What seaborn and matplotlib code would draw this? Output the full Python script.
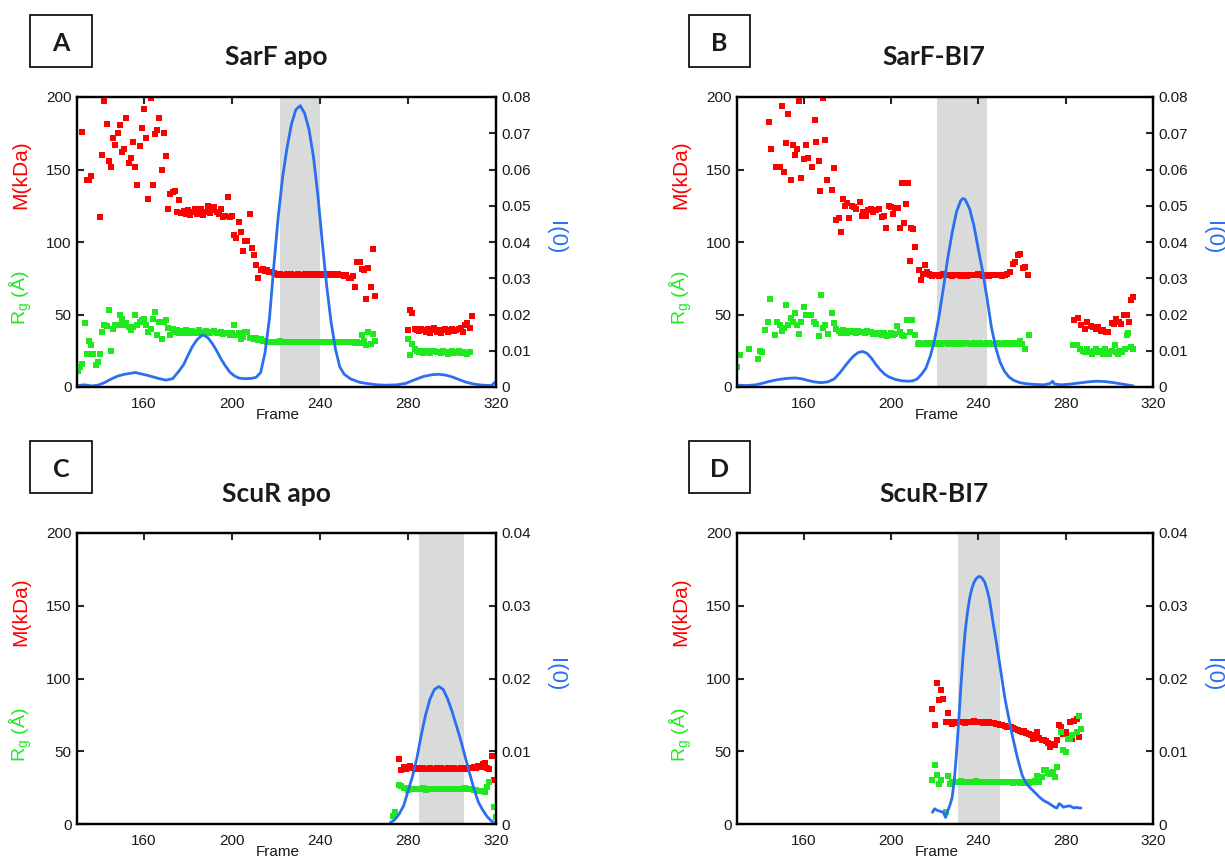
import numpy as np
import pandas as pd
import matplotlib
matplotlib.use("Agg")
import matplotlib.pyplot as plt
import seaborn as sns
from matplotlib.patches import Rectangle
from matplotlib.ticker import FuncFormatter

sns.set_style("white")
plt.rcParams["font.family"] = ["Liberation Sans", "DejaVu Sans"]
plt.rcParams["mathtext.default"] = "regular"

nan = np.nan

# ---------------- data ----------------
PANEL_LETTERS = ["A", "B", "C", "D"]
PANEL_TITLES = ["SarF apo", "SarF-BI7", "ScuR apo", "ScuR-BI7"]
SHADE_SPANS = [(222, 240), (221, 244), (285, 305.5), (230.5, 250)]
I0_MAX = [0.08, 0.08, 0.04, 0.04]
X_TICKS = [160, 200, 240, 280, 320]
Y_TICKS = [0, 50, 100, 150, 200]

# ---- Panel A: SarF apo ----
A_M_RUN1_START = 132
A_M_RUN1 = [176, nan, 142.5, 143, 145.5, nan, nan, nan, 117, 160, 197, 181.6, 155.6, 151.7,
            172, 167, 175, 181, 162, 164, 185.5, 154.7, 158, 169, 151.7, 139, 166, 178.6, 192,
            171.7, 130, 199, 139, 174.7, 177, 185.5, 149.4, 175.4, 159, 123, 133, 134.5, 135,
            120.7, 129,
            120, 121.5, 119, 122, 118.5, 121, 123, 119, 120.5, 122.5, 118.5, 121, 124.5, 120,
            122, 124, 121, 119, 123, 117.5, 118, 131, 117, 118,
            104.6, 103, 114, 107, 94, 101, 100.7, 119.5, 96, 91, 84, 75, 80.5, 81.6, 80, 80.5,
            79.3, 79, 78.5,
            77.8, 77.2, 77.6, 77.0, 77.5, 77.9, 77.3, 77.6, 77.1, 77.5, 77.8, 77.2, 77.4, 77.7,
            77.0, 77.5, 77.9, 77.3, 77.6, 77.2, 77.5, 77.8, 77.1, 77.4, 77.7, 77.3, 77.6, 77.0,
            77.8, 77.4, 77.2,
            76.5, 77.5, 75.5, 75, 76.5, 69, 86, 86, 81.6, 80.5, 61, 82, 69, 95.4, 63]
A_M_RUN2_START = 280
A_M_RUN2 = [39, 53, 51, 40, 39, 38.5, 40, 39, 38, 40, 37, 39, 40.5, 38, 39.5, 37.5, 39, 40,
            38, 39, 40, 38.5, 39, 40, 41, 38, 42.5, 44, 41, 48.7]

A_RG_RUN1_START = 130
A_RG_RUN1 = [11, 13.8, 16, 44, 23, 31.5, 29, 23, 15, 17, 23, 38, 42.5, 42, 53, 24.6, 40, 42.5,
             42.5, 49.4, 47, 42.5, 44, 41.4, 39, 41.4, 49.4, 42.5, 45, 46, 47, 42.5, 38, 40, 47,
             52, 35.6, 45, 33, 45, 46, 41, 36, 40, 38, 39.5, 37, 38.5, 37.5, 39, 38, 37, 38.5,
             37.5, 38, 39, 37, 38, 38.5, 37.5, 37, 38, 38.5, 37, 37.5, 38, 36.5, 37.5, 37, 36,
             37.5, 43, 36, 37, 33.3, 34.5, 38, 38, 34, 33.5, 33, 34, 32.5, 33, 31.5, 31.5,
             31.2, 30.8, 31.0, 31.3, 30.9, 31.1, 31.4, 30.8, 31.0, 31.2, 30.9, 31.1, 31.3, 30.8,
             31.0, 31.2, 30.9, 31.1, 31.0, 31.3, 30.8, 31.1, 31.2, 30.9, 31.0, 31.3, 31.1, 30.8,
             31.2, 31.0, 30.9, 31.1, 31.3, 31.0, 30.8, 31.2, 31.1, 30.9, 31.0, 31.2, 30.5, 30.8,
             30.3, 35.6, 32, 29, 38, 30, 36.8, 32]
A_RG_RUN2_START = 280
A_RG_RUN2 = [33, 22, 30, 26.4, 25, 24, 24.5, 23.5, 24.8, 24, 23.2, 24.5, 25, 23.8, 24.2, 23.5,
             24.6, 24, 23, 24.3, 24.8, 23.6, 24, 24.5, 23.2, 24, 23.5, 22.5, 23.8]

A_I0_FRAMES = [130, 133, 136, 139, 142, 145, 148, 151, 154, 156, 158, 161, 164, 167, 170, 173,
               176, 178, 180, 182, 184, 186, 187, 189, 191, 193, 195, 197, 199, 201, 203, 205,
               207, 209, 211, 213, 215, 217, 219, 221, 223, 225, 227, 229, 231, 233, 235, 237,
               239, 241, 243, 245, 247, 249, 251, 254, 258, 262, 266, 270, 275, 279, 283, 287,
               291, 294, 297, 300, 303, 306, 310, 314, 318, 320]
A_I0 = [0.0004, 0.0006, 0.0003, 0.0005, 0.0012, 0.0022, 0.0030, 0.0035, 0.0038, 0.0040, 0.0037,
        0.0033, 0.0028, 0.0023, 0.0019, 0.0023, 0.0045, 0.0062, 0.0088, 0.0112, 0.0130, 0.0141,
        0.0143, 0.0136, 0.0120, 0.0100, 0.0077, 0.0058, 0.0041, 0.0031, 0.0025, 0.0023, 0.0023,
        0.0024, 0.0027, 0.0040, 0.0095, 0.0189, 0.0335, 0.0470, 0.0580, 0.0660, 0.0725, 0.0765,
        0.0776, 0.0755, 0.0710, 0.0635, 0.0530, 0.0400, 0.0280, 0.0180, 0.0105, 0.0055, 0.0035,
        0.0022, 0.0013, 0.0009, 0.0006, 0.0005, 0.0006, 0.0010, 0.0020, 0.0029, 0.0034, 0.0035,
        0.0033, 0.0028, 0.0021, 0.0014, 0.0008, 0.0005, 0.0004, 0.0016]

# ---- Panel B: SarF-BI7 ----
B_M_PTS1 = [(144, 183), (145, 164), (147.5, 152), (149, 151.7), (150, 194), (151, 148),
            (152, 168), (152.7, 188.5), (154, 143), (155, 166.7), (156, 160), (157, 164),
            (157.7, 197), (158.8, 144), (160, 157.5), (161, 167), (162, 158), (164, 151.7),
            (165, 184), (165.8, 169), (166.9, 156), (167.6, 135), (169, 199), (170, 170.6),
            (170.7, 143), (173, 136), (173.7, 151), (175, 115), (176, 116.5), (177, 107),
            (178, 130), (179, 125), (180, 127), (181, 116.5), (182, 125), (183, 124),
            (184, 122.5), (185.6, 127.6), (186.7, 118), (187.4, 120.7), (188.6, 118),
            (189.7, 121.8), (190.8, 123), (192, 120.7), (193, 121.8), (194.6, 123), (196, 117),
            (197, 118), (197.8, 110), (199, 125), (200, 124), (201, 119.5), (202, 123.4),
            (203, 123.4), (204, 110), (205, 141), (206, 113), (207, 126), (208, 141),
            (208.8, 87), (209, 109.7), (210, 109), (211, 96.6), (213, 80.5), (213.6, 73.6),
            (214.5, 78), (215.6, 84), (216.7, 79), (217.5, 78)]
B_M_RUN_START = 218
B_M_RUN = [77.3, 76.8, 77.5, 77.0, 76.6, 77.2, 77.6, 76.9, 77.1, 77.4, 76.7, 77.0, 77.5, 77.2,
           76.8, 77.3, 77.0, 76.6, 77.4, 77.1, 76.9, 77.3, 77.6, 77.0, 76.8, 77.2, 77.4, 76.7,
           77.1, 77.3, 76.9, 77.5, 77.0, 76.6, 77.2]
B_M_PTS2 = [(253, 78), (254.5, 79), (255.7, 85), (256.8, 86), (258, 91), (259.3, 92),
            (260.3, 82), (261.3, 82.8), (262.9, 77), (284, 46), (285.7, 47.6), (287, 42.5),
            (288.8, 40), (290, 44.8), (291.4, 42), (292.6, 41.4), (293.8, 40), (294.9, 41.4),
            (296, 38.4), (297, 39), (298.4, 38), (299.4, 38), (301, 44.4), (302, 43.7),
            (303, 47), (304.5, 44.8), (305.5, 43.7), (306.6, 49.4), (308, 49.4), (309, 44.8),
            (310, 60), (311, 62)]

B_RG_PTS1 = [(129.5, 13.8), (130.8, 21.8), (135, 26.4), (139, 19), (140, 25), (141, 24),
             (142.5, 39), (143.7, 45), (144.8, 61), (146.7, 35.6), (147.8, 44.8), (149, 43),
             (150, 38.4), (151, 40.7), (152, 56.3), (152.7, 43), (154, 47.6), (155, 44.8),
             (156, 51), (157, 42.5), (157.7, 36.8), (158.8, 44.8), (160, 55), (161, 50),
             (162, 50), (163.5, 50), (164.6, 44.8), (165.8, 43.7), (166.9, 35), (168, 63.7),
             (169, 40.7), (170, 42.5), (171.4, 36.8), (173, 51), (174, 44.4), (175, 40)]
B_RG_RUN1_START = 176
B_RG_RUN1 = [38.5, 37.2, 39.0, 38.0, 37.5, 38.8, 37.8, 38.3, 37.0, 38.6, 37.9, 38.2, 37.4, 38.7,
             37.6, 38.1, 36.8, 37.5, 36.5, 37.2, 35.8, 36.9, 35.5, 36.2, 37.0, 35.9, 36.5]
B_RG_PTS2 = [(202.7, 42), (204, 38), (205, 36), (206, 35), (207.5, 46), (208.5, 38),
             (209.5, 46), (211, 36), (212.6, 30)]
B_RG_RUN2_START = 213
B_RG_RUN2 = [30.2, 29.8, 30.0, 30.3, 29.9, 30.1, 30.4, 29.7, 30.0, 30.2, 29.9, 30.1, 30.3, 29.8,
             30.0, 30.2, 29.9, 30.1, 30.0, 30.3, 29.8, 30.1, 30.2, 29.9, 30.0, 30.3, 30.1, 29.8,
             30.2, 30.0, 29.9, 30.1, 30.3, 30.0, 29.8, 30.2, 30.1, 29.9, 30.0, 30.2, 29.7, 30.1,
             30.4, 29.6, 30.2, 29.8]
B_RG_PTS3 = [(259, 31.5), (260, 30), (261.3, 26.4), (263, 36), (283.4, 29), (285, 29),
             (286.5, 26.4), (288, 25), (289, 24), (290, 26), (291, 24), (292, 23), (293, 25),
             (294, 26), (295, 24), (296, 25), (297, 23), (298, 26), (299, 24), (300, 23),
             (301, 25), (302.5, 29), (303, 24), (304, 23), (305, 25), (306, 24), (307, 26),
             (308, 36), (308.6, 37), (310, 27.6), (311, 26.4)]

B_I0_FRAMES = [130, 134, 138, 141, 144, 147, 150, 153, 156, 159, 162, 165, 168, 171, 174, 177,
               179, 181, 183, 185, 187, 189, 191, 193, 195, 197, 199, 202, 205, 208, 210, 212,
               214, 216, 218, 220, 222, 224, 226, 228, 230, 232, 233, 234, 236, 238, 240, 242,
               244, 246, 248, 250, 252, 254, 256, 259, 262, 266, 270, 273, 274, 275, 278, 282,
               286, 290, 294, 298, 302, 306, 310, 311]
B_I0 = [0.0005, 0.0004, 0.0006, 0.0010, 0.0015, 0.0019, 0.0022, 0.0024, 0.0025, 0.0023, 0.0018,
        0.0014, 0.0012, 0.0014, 0.0022, 0.0042, 0.0058, 0.0073, 0.0086, 0.0095, 0.0098, 0.0093,
        0.0080, 0.0063, 0.0048, 0.0036, 0.0028, 0.0021, 0.0017, 0.0016, 0.0017, 0.0022, 0.0035,
        0.0052, 0.0085, 0.0130, 0.0195, 0.0272, 0.0355, 0.0425, 0.0483, 0.0515, 0.0520, 0.0517,
        0.0492, 0.0445, 0.0380, 0.0318, 0.0245, 0.0165, 0.0108, 0.0068, 0.0043, 0.0028, 0.0019,
        0.0012, 0.0009, 0.0007, 0.0006, 0.0010, 0.0016, 0.0008, 0.0006, 0.0008, 0.0011, 0.0014,
        0.0016, 0.0015, 0.0012, 0.0008, 0.0004, 0.0003]

# ---- Panel C: ScuR apo ----
C_M_RUN_START = 276
C_M_RUN = [45, 37, 39, 38, 39.5, 40,
           38.3, 37.8, 38.1, 38.4, 37.9, 38.2, 38.0, 37.7, 38.3, 38.1, 37.9, 38.2, 38.0, 38.4,
           37.8, 38.1, 38.3, 37.9, 38.0, 38.2, 37.8, 38.1, 38.3, 38.0, 37.9, 38.4, 38.6, 38.2,
           39, 38.5, 40, 39, 41, 42, 38.6, 38, 47, 30]
C_RG_RUN_START = 273
C_RG_RUN = [5.7, 8, nan, 27, 26.4, 25, 24.5, 23.4,
            24.2, 23.8, 24.0, 24.3, 23.9, 24.1, 24.4, 23.7, 24.0, 24.2, 23.9, 24.1, 24.3, 23.8,
            24.0, 24.2, 23.9, 24.1, 24.0, 24.3, 23.8, 24.1, 24.2, 23.9, 24.0, 24.4, 24.1, 23.8,
            24.0, 23.7, 23.5, 23, 22.5, 22.5, 21.8, 25.3, 28.7, nan, 11.5, 5]
C_I0_FRAMES = [272, 274, 276, 278, 280, 282, 284, 286, 288, 290, 292, 294, 296, 298, 300, 302,
               304, 306, 308, 310, 312, 314, 316, 318, 319]
C_I0 = [0.0002, 0.0006, 0.0014, 0.0025, 0.0045, 0.0065, 0.0090, 0.0122, 0.0150, 0.0172, 0.0185,
        0.0189, 0.0185, 0.0172, 0.0155, 0.0135, 0.0115, 0.0092, 0.0070, 0.0048, 0.0030, 0.0019,
        0.0010, 0.0004, 0.0002]

# ---- Panel D: ScuR-BI7 ----
D_M_RUN_START = 219
D_M_RUN = [79, 68, 97, 85, 92, 86, 70, 76.6, 70, 69,
           69.5, 70.2, 69.8, 70.0, 70.4, 69.6, 70.1, 70.3, 69.9, 70.5, 70.2, 69.8, 70.0, 69.7,
           70.1, 69.5, 69.8, 69.2, 69.5, 68.8, 68.9, 68.2,
           67.8, 67.5, 67.0, 66.5, 66.8, 65.8, 65.2, 64.8, 64.0, 63.5, 63.8, 62.5, 62.0, 61.5,
           58.6, 60, 63, 59, 58, 58, 57, 56, 53, 55, 54, 58, 68, 66.7, 62, 63, 61, 70, 58.6,
           71, 72, 60]
D_RG_RUN_START = 219
D_RG_RUN = [30, 40.7, 34, 27.6, 30, nan, 8, 33, 27.6,
            28.8, 29.2, 29.0, 28.7, 29.3, 29.1, 28.9, 29.2, 29.0, 28.8, 29.1, 29.3, 28.9, 29.0,
            29.2, 28.8, 29.0, 29.1, 28.7, 29.0, 29.2, 28.9, 29.1, 28.8, 29.0, 28.6, 28.9, 28.7,
            28.5, 28.8, 28.6, 28.4, 28.7, 28.5, 28.8, 28.4, 28.6, 29.0,
            29.5, 33, 28.7, 32, 36.8, 37, 35, 34.5, 35.6, 32.6, 39, nan, 63, 50.6, 49.4, 58.6,
            58.6, 61, nan, 63, 74, 65.5]
D_I0_FRAMES = [219, 220, 221, 222, 223, 224, 225, 226, 227, 228, 229, 230, 231, 232, 233, 234,
               235, 236, 237, 238, 239, 240, 241, 242, 243, 244, 245, 246, 247, 248, 249, 250,
               251, 252, 253, 254, 255, 256, 257, 258, 259, 260, 261, 262, 263, 264, 266, 268,
               270, 272, 274, 275, 276, 277, 278, 279, 280, 282, 283, 284, 285, 286, 287]
D_I0 = [0.0016, 0.0021, 0.0019, 0.0018, 0.0017, 0.0016, 0.0009, 0.0018, 0.0026, 0.0036, 0.0060,
        0.0097, 0.0140, 0.0188, 0.0230, 0.0265, 0.0290, 0.0310, 0.0323, 0.0332, 0.0337, 0.0340,
        0.0340, 0.0337, 0.0332, 0.0322, 0.0310, 0.0292, 0.0272, 0.0255, 0.0235, 0.0216, 0.0196,
        0.0176, 0.0160, 0.0145, 0.0130, 0.0116, 0.0103, 0.0090, 0.0079, 0.0068, 0.0061, 0.0056,
        0.0052, 0.0049, 0.0043, 0.0037, 0.0032, 0.0029, 0.0025, 0.0023, 0.0022, 0.0028, 0.0026,
        0.0023, 0.0024, 0.0025, 0.0023, 0.0022, 0.0023, 0.0022, 0.0022]


# ---------------- helpers ----------------
def run(start, vals):
    return pd.DataFrame({"frame": np.arange(start, start + len(vals)), "val": vals})


def pts(pairs):
    return pd.DataFrame(pairs, columns=["frame", "val"])


def series(*parts):
    return pd.concat(parts, ignore_index=True).dropna()


M_DATA = [
    series(run(A_M_RUN1_START, A_M_RUN1), run(A_M_RUN2_START, A_M_RUN2)),
    series(pts(B_M_PTS1), run(B_M_RUN_START, B_M_RUN), pts(B_M_PTS2)),
    series(run(C_M_RUN_START, C_M_RUN)),
    series(run(D_M_RUN_START, D_M_RUN)),
]
RG_DATA = [
    series(run(A_RG_RUN1_START, A_RG_RUN1), run(A_RG_RUN2_START, A_RG_RUN2)),
    series(pts(B_RG_PTS1), run(B_RG_RUN1_START, B_RG_RUN1), pts(B_RG_PTS2),
           run(B_RG_RUN2_START, B_RG_RUN2), pts(B_RG_PTS3)),
    series(run(C_RG_RUN_START, C_RG_RUN)),
    series(run(D_RG_RUN_START, D_RG_RUN)),
]
I0_DATA = [
    pd.DataFrame({"frame": A_I0_FRAMES, "val": A_I0}),
    pd.DataFrame({"frame": B_I0_FRAMES, "val": B_I0}),
    pd.DataFrame({"frame": C_I0_FRAMES, "val": C_I0}),
    pd.DataFrame({"frame": D_I0_FRAMES, "val": D_I0}),
]

# ---------------- layout ----------------
W, H = 1225, 858
AX_BOX = [(77, 97, 496, 387), (737, 97, 1153, 387), (77, 533, 496, 824), (737, 533, 1153, 824)]
LETTER_BOX = [(30, 15, 92, 67), (689, 15, 750, 67), (30, 441, 92, 493), (689, 441, 750, 493)]
TITLE_POS = [(276, 65), (934, 65), (276, 502), (934, 502)]

RED = "#ff0000"
GREEN = "#1fe81f"
BLUE = "#2a6ff0"
SHADE = "#d9dbda"
TXT = "#1a1a1a"

fig = plt.figure(figsize=(W / 100, H / 100), dpi=100)

for i in range(4):
    l, t, r, b = AX_BOX[i]
    ax = fig.add_axes([l / W, 1 - b / H, (r - l) / W, (b - t) / H])
    ax2 = ax.twinx()

    ax.axvspan(*SHADE_SPANS[i], color=SHADE, lw=0, zorder=0)
    sns.scatterplot(data=M_DATA[i], x="frame", y="val", ax=ax, color=RED, marker="s",
                    s=15, linewidth=0, zorder=3)
    sns.scatterplot(data=RG_DATA[i], x="frame", y="val", ax=ax, color=GREEN, marker="s",
                    s=15, linewidth=0, zorder=3)
    sns.lineplot(data=I0_DATA[i], x="frame", y="val", ax=ax2, color=BLUE, lw=2.0)

    ax.set_xlim(129.5, 320)
    ax.set_ylim(0, 200)
    ax.set_xticks(X_TICKS)
    ax.set_yticks(Y_TICKS)
    ax2.set_ylim(0, I0_MAX[i])
    ax2.set_yticks(np.round(np.arange(0, I0_MAX[i] + 1e-9, 0.01), 2))
    ax2.yaxis.set_major_formatter(FuncFormatter(lambda v, p: "0" if abs(v) < 1e-9 else f"{v:.2f}"))

    ax.tick_params(axis="both", direction="in", length=5, width=1.5, top=True, right=False,
                   labelsize=11, pad=4, labelcolor=TXT)
    ax.tick_params(axis="x", pad=7)
    ax2.tick_params(axis="y", direction="in", length=5, width=1.5, labelsize=11, pad=4,
                    labelcolor=TXT)
    for a in (ax, ax2):
        for s in a.spines.values():
            s.set_linewidth(1.6)
            s.set_color("black")
    ax2.set_ylabel("")
    ax.set_ylabel("")
    ax.set_xlabel("Frame", fontsize=11, color=TXT)
    ax.xaxis.set_label_coords(0.48, -0.072)

    ax.text(-0.135, 0.731, "M(kDa)", rotation=90, color=RED, fontsize=15,
            ha="center", va="center", transform=ax.transAxes)
    ax.text(-0.135, 0.307, r"R$_{g}$ (Å)", rotation=90, color=GREEN, fontsize=14,
            ha="center", va="center", transform=ax.transAxes)
    ax2.text(1.143, 0.514, "I(0)", rotation=270, color=BLUE, fontsize=16,
             ha="center", va="center", transform=ax2.transAxes)

    bx0, by0, bx1, by1 = LETTER_BOX[i]
    fig.add_artist(Rectangle((bx0 / W, 1 - by1 / H), (bx1 - bx0) / W, (by1 - by0) / H,
                             transform=fig.transFigure, fill=False, lw=1.2, ec="black"))
    fig.text((bx0 + bx1) / 2 / W, 1 - (by1 - 16) / H, PANEL_LETTERS[i], ha="center",
             va="baseline", fontsize=18, fontweight="bold", family="Lato", color=TXT)
    tx, ty = TITLE_POS[i]
    fig.text(tx / W, 1 - ty / H, PANEL_TITLES[i], ha="center", va="baseline",
             fontsize=19, fontweight="bold", family="Lato", color=TXT)

fig.savefig("out.png", dpi=100)
